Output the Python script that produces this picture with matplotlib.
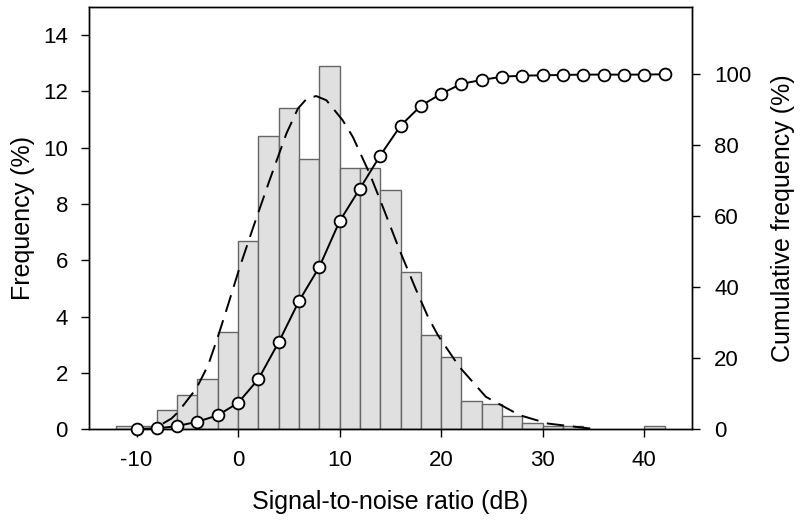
import numpy as np
import matplotlib.pyplot as plt

plt.rcParams['font.family'] = ['Liberation Sans', 'DejaVu Sans']
plt.rcParams['axes.unicode_minus'] = False

# histogram, 2 dB bins (left edges)
bin_left = [-12, -10, -8, -6, -4, -2, 0, 2, 4, 6, 8, 10, 12, 14, 16, 18, 20,
            22, 24, 26, 28, 30, 32, 40]
freq = [0.1, 0.1, 0.67, 1.23, 1.78, 3.46, 6.7, 10.4, 11.41, 9.61, 12.89, 9.29,
        9.29, 8.51, 5.59, 3.36, 2.57, 1.01, 0.89, 0.46, 0.23, 0.11, 0.11, 0.1]

# cumulative frequency (%) at the upper edge of each bin
cum_x = [-10, -8, -6, -4, -2, 0, 2, 4, 6, 8, 10, 12, 14, 16, 18, 20, 22, 24,
         26, 28, 30, 32, 34, 36, 38, 40, 42]
cum_y = [0.1, 0.2, 0.87, 2.1, 3.9, 7.4, 14.1, 24.5, 36.1, 45.7, 58.6, 67.8,
         77.1, 85.5, 91.1, 94.5, 97.3, 98.4, 99.3, 99.6, 99.7, 99.8, 99.9,
         99.9, 99.9, 99.9, 100.0]

# fitted distribution curve (dashed)
fit_x = [-7.4, -6.55, -5.9, -4.1, -2.95, -1.97, -1.0, 0.17, 1.5, 3.1, 4.76,
         5.9, 6.8, 7.7, 8.7, 10.3, 11.3, 12.95, 14.26, 15.9, 17.54, 18.7,
         19.67, 21.8, 24.4, 27.7, 30.5, 33.3, 35.2]
fit_y = [0.2, 0.38, 0.61, 1.45, 2.27, 3.3, 4.4, 5.76, 7.18, 8.84, 10.5,
         11.39, 11.75, 11.83, 11.68, 10.97, 10.38, 9.08, 7.89, 6.36, 4.94, 3.99,
         3.34, 2.21, 1.15, 0.5, 0.2, 0.08, 0.0]

fig = plt.figure(figsize=(8, 5.24), dpi=100)
ax = fig.add_axes([0.111, 0.181, 0.754, 0.806])

ax.bar(bin_left, freq, width=2, align='edge', color='#e0e0e0',
       edgecolor='#666666', linewidth=1.0, zorder=2)
ax.plot(fit_x, fit_y, color='black', linewidth=1.4, linestyle=(0, (9, 4.5)),
        zorder=3)

ax.set_xlim(-14.7, 44.7)
ax.set_ylim(0, 15)
ax.set_xticks([-10, 0, 10, 20, 30, 40])
ax.set_yticks([0, 2, 4, 6, 8, 10, 12, 14])
ax.set_xlabel("Signal-to-noise ratio (dB)", fontsize=18, labelpad=14)
ax.set_ylabel("Frequency (%)", fontsize=18, labelpad=6)
ax.tick_params(direction='out', length=6, width=1, labelsize=16, pad=9)

ax2 = ax.twinx()
ax2.plot(cum_x, cum_y, color='black', linewidth=1.4, marker='o',
         markersize=8.5, markerfacecolor='white', markeredgecolor='black',
         markeredgewidth=1.3, zorder=4, clip_on=False)
ax2.set_ylim(0, 119)
ax2.set_yticks([0, 20, 40, 60, 80, 100])
ax2.set_ylabel("Cumulative frequency (%)", fontsize=18, labelpad=14)
ax2.tick_params(direction='out', length=6, width=1, labelsize=16, pad=10)

for a in (ax, ax2):
    for s in a.spines.values():
        s.set_linewidth(1.0)

fig.savefig("out.png", dpi=100)
